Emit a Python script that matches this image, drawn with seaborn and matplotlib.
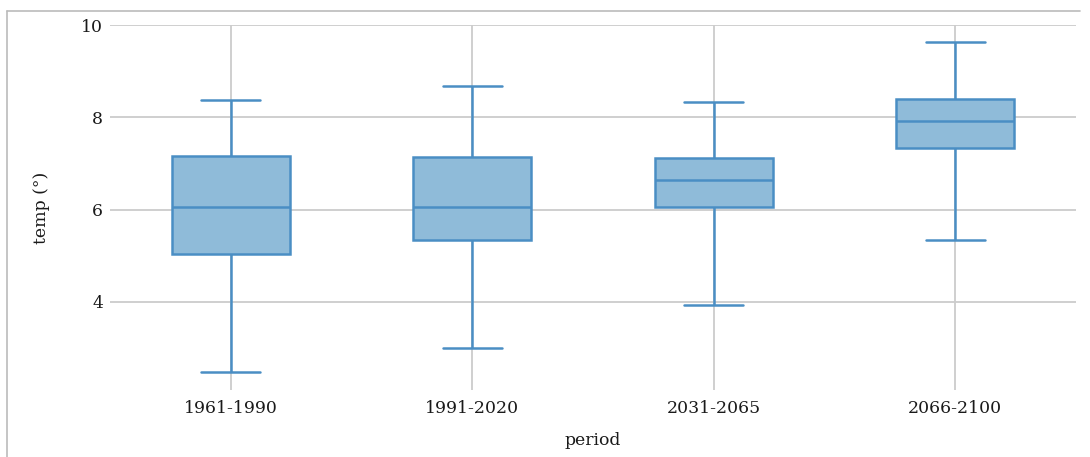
import numpy as np
import pandas as pd
import matplotlib
matplotlib.use("Agg")
import matplotlib.pyplot as plt
import seaborn as sns
from matplotlib.lines import Line2D

# Values (box statistics per period)
periods = ["1961-1990", "1991-2020", "2031-2065", "2066-2100"]
whisker_low = [2.48, 3.00, 3.94, 5.34]
q1 = [5.04, 5.34, 6.06, 7.34]
median = [6.06, 6.06, 6.64, 7.92]
q3 = [7.16, 7.14, 7.12, 8.40]
whisker_high = [8.37, 8.68, 8.33, 9.63]
yticks = [4, 6, 8, 10]

rows = []
for i, p in enumerate(periods):
    for v in (whisker_low[i], q1[i], median[i], q3[i], whisker_high[i]):
        rows.append({"period": p, "temp": v})
df = pd.DataFrame(rows)

sns.set_theme(style="white")
plt.rcParams["font.family"] = ["DejaVu Serif"]

fig = plt.figure(figsize=(10.9, 4.57), dpi=100)
ax = fig.add_axes([110 / 1090, 1 - 390 / 457, (1076 - 110) / 1090, (390 - 25) / 457])

fill = "#8fbbd9"
edge = "#4a8ec4"
sns.boxplot(data=df, x="period", y="temp", order=periods, ax=ax,
            color=fill, saturation=1, linecolor=edge, linewidth=1.8,
            width=0.49, whis=(0, 100), showfliers=False, zorder=3)

ax.set_ylim(2.09, 10)
ax.set_xlim(-0.5, 3.5)
ax.set_yticks(yticks)
ax.set_yticklabels([str(t) for t in yticks])
ax.grid(True, axis="both", color="#cccccc", linewidth=1.3, zorder=0)
ax.set_axisbelow(True)
for s in ax.spines.values():
    s.set_visible(False)
ax.tick_params(axis="both", length=0, labelsize=12.4, colors="#1a1a1a")
ax.tick_params(axis="y", pad=5)
ax.tick_params(axis="x", pad=7)
ax.set_xlabel("period", fontsize=12.4, labelpad=11, color="#1a1a1a")
ax.set_ylabel("temp (°)", fontsize=12.4, labelpad=22, color="#1a1a1a")

# thin outer frame (top and left edges as seen in reference)
fig.add_artist(Line2D([7 / 1090, 1080 / 1090], [1 - 11 / 457, 1 - 11 / 457],
                      transform=fig.transFigure, color="#bbbbbb", linewidth=1.2))
fig.add_artist(Line2D([7 / 1090, 7 / 1090], [1 - 11 / 457, 0],
                      transform=fig.transFigure, color="#bbbbbb", linewidth=1.2))

fig.savefig("out.png", dpi=100)
